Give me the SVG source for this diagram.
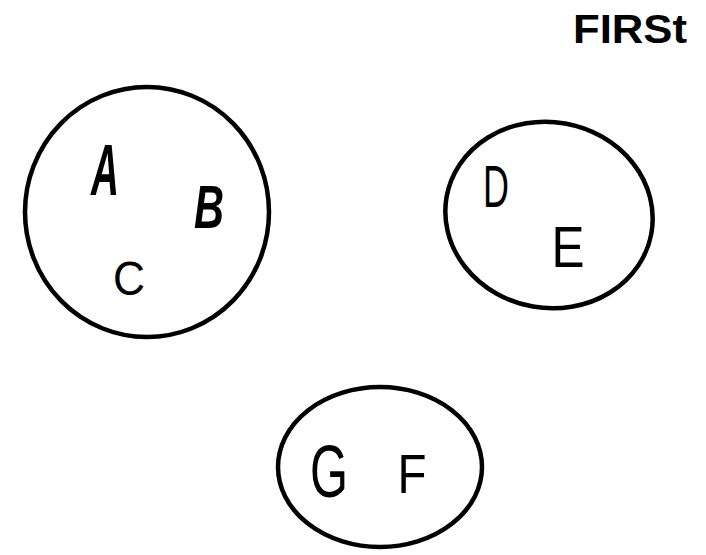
<svg xmlns="http://www.w3.org/2000/svg" width="706" height="555" viewBox="0 0 706 555">
<style>
.ring{fill:none;stroke:#000;stroke-width:4.5}
.lbl{font-family:"Liberation Sans",Arial,sans-serif;fill:#000;text-anchor:middle}
.b{font-weight:bold}
</style>
<rect width="706" height="555" fill="#fff"/>
<g id="title"><text class="lbl b" x="630" y="43" font-size="41" textLength="114" lengthAdjust="spacingAndGlyphs">FIRSt</text></g>
<g id="group-abc">
<ellipse class="ring" cx="147" cy="212" rx="122" ry="125"/>
<text class="lbl b" x="105" y="195" font-size="72" font-style="italic" textLength="28" lengthAdjust="spacingAndGlyphs">A</text>
<text class="lbl b" x="209" y="228" font-size="62" font-style="italic" textLength="30" lengthAdjust="spacingAndGlyphs">B</text>
<text class="lbl" x="129" y="295" font-size="48" textLength="32" lengthAdjust="spacingAndGlyphs">C</text>
</g>
<g id="group-de">
<ellipse class="ring" cx="549" cy="215" rx="104" ry="93" transform="rotate(10 549 215)"/>
<text class="lbl" x="496" y="207" font-size="60" textLength="26" lengthAdjust="spacingAndGlyphs">D</text>
<text class="lbl" x="568" y="267" font-size="58" textLength="33" lengthAdjust="spacingAndGlyphs">E</text>
</g>
<g id="group-gf">
<ellipse class="ring" cx="380" cy="467" rx="102" ry="80"/>
<text class="lbl" x="329" y="497" font-size="74" textLength="38" lengthAdjust="spacingAndGlyphs">G</text>
<text class="lbl" x="412" y="493" font-size="56" textLength="29" lengthAdjust="spacingAndGlyphs">F</text>
</g>
</svg>
